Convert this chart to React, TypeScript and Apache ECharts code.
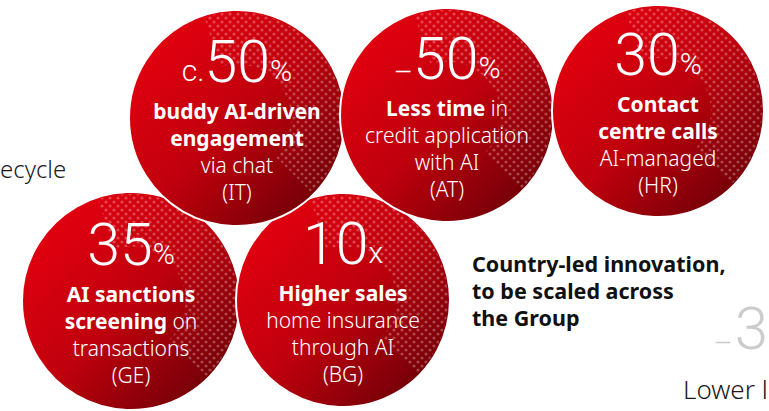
import React, { useEffect, useRef } from "react";
import * as echarts from "echarts";

// ---- data ----
const prefixes = ["c.", "–", "", "", ""];
const values = ["50", "50", "30", "35", "10"];
const suffixes = ["%", "%", "%", "%", "x"];
const descriptions = [
  ["{b|buddy AI-driven}", "{b|engagement}", "{r|via chat}", "{r|(IT)}"],
  ["{b|Less time}{r| in}", "{r|credit application}", "{r|with AI}", "{r|(AT)}"],
  ["{b|Contact}", "{b|centre calls}", "{r|AI-managed}", "{r|(HR)}"],
  ["{b|AI sanctions}", "{b|screening}{r| on}", "{r|transactions}", "{r|(GE)}"],
  ["{b|Higher sales}", "{r|home insurance}", "{r|through AI}", "{r|(BG)}"],
];
const calloutLines = ["Country-led innovation,", "to be scaled across", "the Group"];
const leftFragment = "ecycle";
const rightValueFragment = ["–", "3"];
const rightLabelFragment = "Lower l";

// ---- layout ----
const circles = [
  { cx: 237, cy: 118, r: 108 },
  { cx: 447, cy: 115, r: 107 },
  { cx: 658, cy: 111, r: 106 },
  { cx: 131, cy: 301, r: 109 },
  { cx: 343, cy: 300, r: 107 },
];
const drawOrder = [3, 4, 0, 1, 2];

const FONT = "'Noto Sans', 'Open Sans', sans-serif";
const NUMFONT = "Roboto, 'Noto Sans', sans-serif";

function makeDotPattern(): string {
  const c = document.createElement("canvas");
  c.width = 8;
  c.height = 8;
  const ctx = c.getContext("2d")!;
  ctx.fillStyle = "#ffffff";
  ctx.beginPath();
  ctx.arc(2, 2, 1.6, 0, Math.PI * 2);
  ctx.fill();
  ctx.beginPath();
  ctx.arc(6, 6, 1.6, 0, Math.PI * 2);
  ctx.fill();
  return c.toDataURL();
}

export default function App() {
  const ref = useRef<HTMLDivElement>(null);
  useEffect(() => {
    document.body.style.margin = "0";
    const chart = echarts.init(ref.current!, undefined, { renderer: "svg" });
    const dots = makeDotPattern();
    const elements: any[] = [];

    drawOrder.forEach((i) => {
      const c = circles[i];
      elements.push({
        type: "circle",
        shape: { cx: c.cx, cy: c.cy, r: c.r },
        style: {
          fill: new echarts.graphic.LinearGradient(0, 0, 1, 1, [
            { offset: 0, color: "#ee0010" },
            { offset: 0.5, color: "#c0000d" },
            { offset: 1, color: "#5a0005" },
          ]),
          stroke: "#ffffff",
          lineWidth: 2,
        },
        z: 1,
      });
      elements.push({
        type: "sector",
        shape: {
          cx: c.cx,
          cy: c.cy,
          r: c.r - 2,
          r0: c.r * 0.5,
          startAngle: -Math.PI * 0.6,
          endAngle: Math.PI * 0.25,
          clockwise: true,
        },
        style: {
          fill: { image: dots, repeat: "repeat", imageWidth: 8, imageHeight: 8 },
          opacity: 0.28,
        },
        z: 1,
        silent: true,
      });
      elements.push({
        type: "text",
        x: c.cx,
        y: c.cy - 57,
        style: {
          text: `{p|${prefixes[i]}}{n|${values[i]}}{s|${suffixes[i]}}`,
          align: "center",
          verticalAlign: "middle",
          fill: "#fff",
          rich: {
            p: { fontSize: 30, fontWeight: 300, fontFamily: NUMFONT, fill: "#fff", verticalAlign: "bottom", padding: [0, 0, i === 1 ? 1 : 5, 0] },
            n: { fontSize: 59, fontWeight: 300, fontFamily: NUMFONT, fill: "#fff", verticalAlign: "bottom" },
            s: { fontSize: 30, fontWeight: 300, fontFamily: NUMFONT, fill: "#fff", verticalAlign: "bottom", padding: [0, 0, 5, 0] },
          },
        },
        z: 3,
      });
      elements.push({
        type: "text",
        x: c.cx,
        y: c.cy - 21,
        style: {
          text: descriptions[i].join("\n"),
          align: "center",
          verticalAlign: "top",
          fill: "#fff",
          rich: {
            b: { fontSize: 21, fontWeight: "bold", fontFamily: FONT, fill: "#fff", lineHeight: 27 },
            r: { fontSize: 21, fontWeight: 300, fontFamily: FONT, fill: "#fff", lineHeight: 27 },
          },
        },
        z: 3,
      });
    });

    elements.push({
      type: "text",
      x: 0,
      y: 168,
      style: { text: leftFragment, fontSize: 24, fontFamily: FONT, fontWeight: 300, fill: "#1a1a1a", verticalAlign: "middle" },
      z: 3,
    });
    elements.push({
      type: "text",
      x: 472,
      y: 250,
      style: {
        text: calloutLines.join("\n"),
        fontSize: 21.5,
        fontWeight: "bold",
        fontFamily: FONT,
        lineHeight: 27,
        fill: "#111",
        verticalAlign: "top",
      },
      z: 3,
    });
    elements.push({
      type: "text",
      x: 768,
      y: 358,
      style: {
        text: `{d|${rightValueFragment[0]}}{n|${rightValueFragment[1]}}`,
        align: "right",
        verticalAlign: "bottom",
        rich: {
          d: { fontSize: 30, fontWeight: 300, fontFamily: NUMFONT, fill: "#cccccc", verticalAlign: "bottom", padding: [0, 2, 1, 0] },
          n: { fontSize: 60, fontWeight: 300, fontFamily: NUMFONT, fill: "#cccccc", verticalAlign: "bottom" },
        },
      },
      z: 3,
    });
    elements.push({
      type: "text",
      x: 683,
      y: 389,
      style: { text: rightLabelFragment, fontSize: 26, fontFamily: FONT, fontWeight: 300, fill: "#1a1a1a", verticalAlign: "middle" },
      z: 3,
    });

    chart.setOption({
      animation: false,
      backgroundColor: "#ffffff",
      graphic: { elements },
    });
    return () => chart.dispose();
  }, []);
  return <div ref={ref} style={{ width: 769, height: 411 }} />;
}
